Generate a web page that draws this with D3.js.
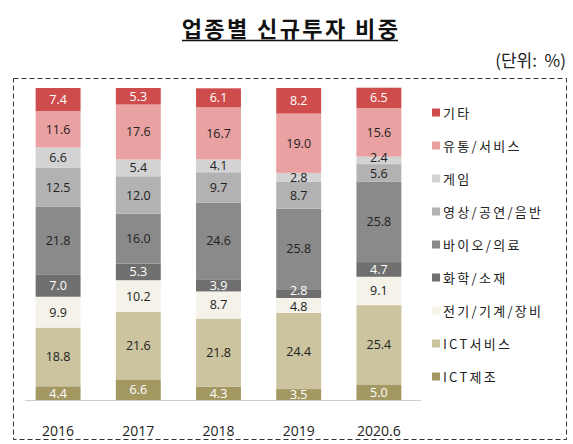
<!DOCTYPE html>
<html>
<head>
<meta charset="utf-8">
<script src="https://cdn.jsdelivr.net/npm/d3@7"></script>
<style>
  html, body { margin: 0; padding: 0; background: #fff; }
  svg { display: block; font-family: "Noto Sans CJK KR", "Noto Sans", sans-serif; }
  .num { font-family: "Open Sans", "Noto Sans", sans-serif; }
</style>
</head>
<body>
<svg id="chart" width="573" height="444"></svg>
<script>
// ---- data ----
const years = ["2016", "2017", "2018", "2019", "2020.6"];
const seriesNames = ["ICT제조", "ICT서비스", "전기/기계/장비", "화학/소재", "바이오/의료", "영상/공연/음반", "게임", "유통/서비스", "기타"];
const ictMfg     = [4.4, 6.6, 4.3, 3.5, 5.0];
const ictSvc     = [18.8, 21.6, 21.8, 24.4, 25.4];
const elecMach   = [9.9, 10.2, 8.7, 4.8, 9.1];
const chemMat    = [7.0, 5.3, 3.9, 2.8, 4.7];
const bioMed     = [21.8, 16.0, 24.6, 25.8, 25.8];
const media      = [12.5, 12.0, 9.7, 8.7, 5.6];
const game       = [6.6, 5.4, 4.1, 2.8, 2.4];
const distSvc    = [11.6, 17.6, 16.7, 19.0, 15.6];
const etc        = [7.4, 5.3, 6.1, 8.2, 6.5];
const seriesValues = [ictMfg, ictSvc, elecMach, chemMat, bioMed, media, game, distSvc, etc];

const colors = ["#a39862", "#cbc49e", "#f4f2e9", "#6f6f6f", "#8a8a8a", "#b2b2b2", "#d3d3d3", "#e9a1a1", "#cf4c4c"];
const labelColors = ["#ffffff", "#222222", "#222222", "#ffffff", "#222222", "#222222", "#222222", "#222222", "#ffffff"];

// ---- build table ----
const table = years.map((y, i) => {
  const row = { year: y };
  seriesNames.forEach((s, j) => { row[s] = seriesValues[j][i]; });
  return row;
});
const stacked = d3.stack().keys(seriesNames)(table);

const svg = d3.select("#chart");

// frame
svg.append("rect")
  .attr("x", 13.5).attr("y", 78.5).attr("width", 553).attr("height", 361)
  .attr("fill", "none").attr("stroke", "#333").attr("stroke-width", 1)
  .attr("stroke-dasharray", "5,3");

// title
svg.append("text")
  .attr("x", 291).attr("y", 37)
  .attr("text-anchor", "middle")
  .attr("font-size", 22).attr("font-weight", "bold").attr("fill", "#111")
  .attr("letter-spacing", 2.4)
  .text("업종별 신규투자 비중");
svg.append("line")
  .attr("x1", 182).attr("x2", 398).attr("y1", 40.5).attr("y2", 40.5)
  .attr("stroke", "#111").attr("stroke-width", 1.5);

svg.append("text")
  .attr("x", 566).attr("y", 67)
  .attr("text-anchor", "end")
  .attr("font-size", 17).attr("fill", "#222")
  .attr("xml:space", "preserve")
  .text("(단위:  %)");

// scales
const x = d3.scaleBand().domain(years).range([18, 419]).paddingInner(0.44).paddingOuter(0.22);
const y = d3.scaleLinear().domain([0, 100]).range([400, 88]);

// bars
const groups = svg.append("g").selectAll("g")
  .data(stacked).join("g")
  .attr("fill", (d, i) => colors[i]);

groups.selectAll("rect")
  .data(d => d.map(p => ({ p, key: d.key })))
  .join("rect")
  .attr("x", d => x(d.p.data.year))
  .attr("width", x.bandwidth())
  .attr("y", d => y(d.p[1]))
  .attr("height", d => y(d.p[0]) - y(d.p[1]));

// labels: centre in segment, then nudge apart within each bar so they don't collide
const minGap = 16;
const labels = [];
years.forEach((yr, bi) => {
  const col = stacked.map((s, si) => ({
    si, v: s[bi][1] - s[bi][0],
    cx: x(yr) + x.bandwidth() / 2,
    cy: (y(s[bi][0]) + y(s[bi][1])) / 2,
    h: y(s[bi][0]) - y(s[bi][1])
  }));
  for (let it = 0; it < 6; it++) {
    for (let k = 0; k < col.length - 1; k++) {
      const lo = col[k], hi = col[k + 1];
      const gap = lo.cy - hi.cy;
      if (gap < minGap) {
        const need = minGap - gap;
        const wLo = hi.h < lo.h ? 0.2 : 0.8;
        lo.cy += need * wLo;
        hi.cy -= need * (1 - wLo);
      }
    }
  }
  col.forEach(c => labels.push(c));
});

svg.append("g").selectAll("text")
  .data(labels).join("text")
  .attr("class", "num")
  .attr("x", d => d.cx)
  .attr("y", d => d.cy)
  .attr("dy", "0.36em")
  .attr("text-anchor", "middle")
  .attr("font-size", 12.5)
  .attr("fill", d => labelColors[d.si])
  .text(d => d.v.toFixed(1));

// x axis
const xAxis = svg.append("g").attr("transform", "translate(0,400)");
xAxis.append("line").attr("x1", 25).attr("x2", 421).attr("y1", 0.5).attr("y2", 0.5)
  .attr("stroke", "#cfcfcf");
xAxis.call(d3.axisBottom(x).tickSize(0).tickPadding(26))
  .call(g => g.select(".domain").remove())
  .call(g => g.selectAll("text").attr("class", "num").attr("font-size", 14).attr("fill", "#222")
    .attr("font-family", null));
xAxis.attr("font-family", null);

// legend
const legendOrder = seriesNames.map((s, i) => i).reverse();
const legend = svg.append("g");
legendOrder.forEach((si, k) => {
  const cy = 113 + k * 33;
  legend.append("rect").attr("x", 432).attr("y", cy - 4.5).attr("width", 8).attr("height", 8)
    .attr("fill", colors[si]);
  legend.append("text").attr("x", 443).attr("y", cy).attr("dy", "0.36em")
    .attr("font-size", 13).attr("fill", "#222").attr("letter-spacing", 2.3)
    .text(seriesNames[si]);
});
</script>
</body>
</html>
